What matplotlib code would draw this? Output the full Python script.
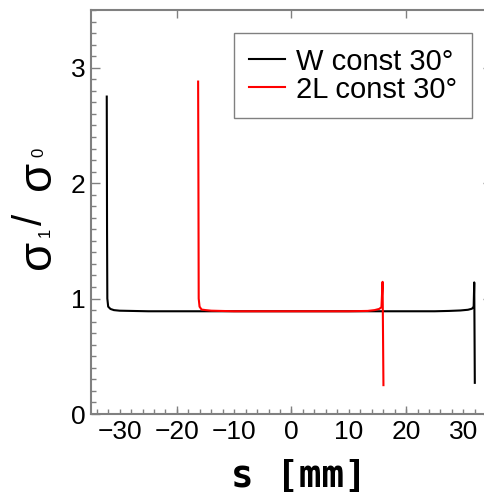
import matplotlib
matplotlib.use("Agg")
import matplotlib.pyplot as plt
from matplotlib.ticker import MultipleLocator

# Stress ratio along the specimen, s in mm
w_s = [-32.25, -32.2, -32.15, -32.0, -31.6, -31.0, -30.0, -28.0, -25.0, -20.0, -10.0,
       0.0, 10.0, 20.0, 25.0, 27.5, 29.5, 30.8, 31.5, 31.8, 31.9, 32.0]
w_ratio = [2.75, 1.60, 1.00, 0.93, 0.91, 0.90, 0.895, 0.893, 0.89, 0.89, 0.89,
           0.89, 0.89, 0.89, 0.89, 0.893, 0.897, 0.903, 0.912, 0.93, 1.14, 0.27]

l2_s = [-16.3, -16.25, -16.2, -16.05, -15.7, -15.0, -14.0, -10.0, -5.0, 0.0, 5.0,
        10.0, 13.3, 14.5, 15.3, 15.7, 15.9, 16.05]
l2_ratio = [2.88, 2.05, 1.00, 0.93, 0.905, 0.90, 0.895, 0.89, 0.89, 0.89, 0.89,
            0.89, 0.893, 0.90, 0.91, 0.925, 1.145, 0.25]

labels = ["W const 30°", "2L const 30°"]
x_ticks = [-30, -20, -10, 0, 10, 20, 30]
x_long_ticks = [-20, 0, 20]
y_ticks = [0, 1, 2, 3]

plt.rcParams["font.family"] = ["Liberation Sans", "DejaVu Sans"]
gray = "#808080"
W, H = 485, 503

fig = plt.figure(figsize=(W / 100, H / 100), dpi=100)
ax = fig.add_axes([91 / W, 89 / H, 401 / W, 404 / H])

ax.plot(w_s, w_ratio, color="black", lw=1.5, label=labels[0])
ax.plot(l2_s, l2_ratio, color="red", lw=1.5, label=labels[1])

ax.set_xlim(-35, 35)
ax.set_ylim(0, 3.5)
ax.set_xticks(x_ticks)
ax.set_yticks(y_ticks)
ax.xaxis.set_minor_locator(MultipleLocator(2))
ax.yaxis.set_minor_locator(MultipleLocator(0.1))

for sp in ax.spines.values():
    sp.set_color(gray)
    sp.set_linewidth(1.5)

ax.tick_params(which="both", direction="in", top=True, right=True, color=gray,
               width=1.0, labelsize=19, pad=4)
ax.tick_params(axis="y", which="major", length=6.5)
ax.tick_params(axis="x", which="major", length=3.8)
ax.tick_params(which="minor", length=3.8)

# longer marks every 20 mm, top and bottom
ax2 = ax.twiny()
ax2.set_xlim(ax.get_xlim())
ax2.set_xticks(x_long_ticks)
ax2.set_xticks([], minor=True)
ax2.tick_params(axis="x", which="major", direction="in", top=True, bottom=True,
                labeltop=False, labelbottom=False, length=6.0, width=1.0, color=gray)
for sp in ax2.spines.values():
    sp.set_visible(False)

leg = ax.legend(loc="upper right", bbox_to_anchor=(0.950, 0.943), borderaxespad=0,
                fontsize=21, fancybox=False, edgecolor=gray, framealpha=1,
                handlelength=1.25, handletextpad=0.38, borderpad=0.5,
                labelspacing=0.0)
leg.get_frame().set_linewidth(1.0)

# y label: sigma_1 / sigma_0 built from pieces
def ytext(x, y, s, size):
    fig.text(x / W, 1 - y / H, s, rotation=90, rotation_mode="anchor",
             ha="center", va="baseline", fontsize=size)

ytext(50, 254.5, "σ", 34)
ytext(50, 232.5, "1", 12)
ytext(42, 219, "/", 29)
ytext(50, 175, "σ", 34)
ytext(43, 152.5, "0", 12)

fig.text(299 / W, 16 / H, "s [mm]", ha="center", va="baseline", fontsize=27,
         family="DejaVu Sans Mono", weight="bold")

fig.savefig("out.png", dpi=100)
